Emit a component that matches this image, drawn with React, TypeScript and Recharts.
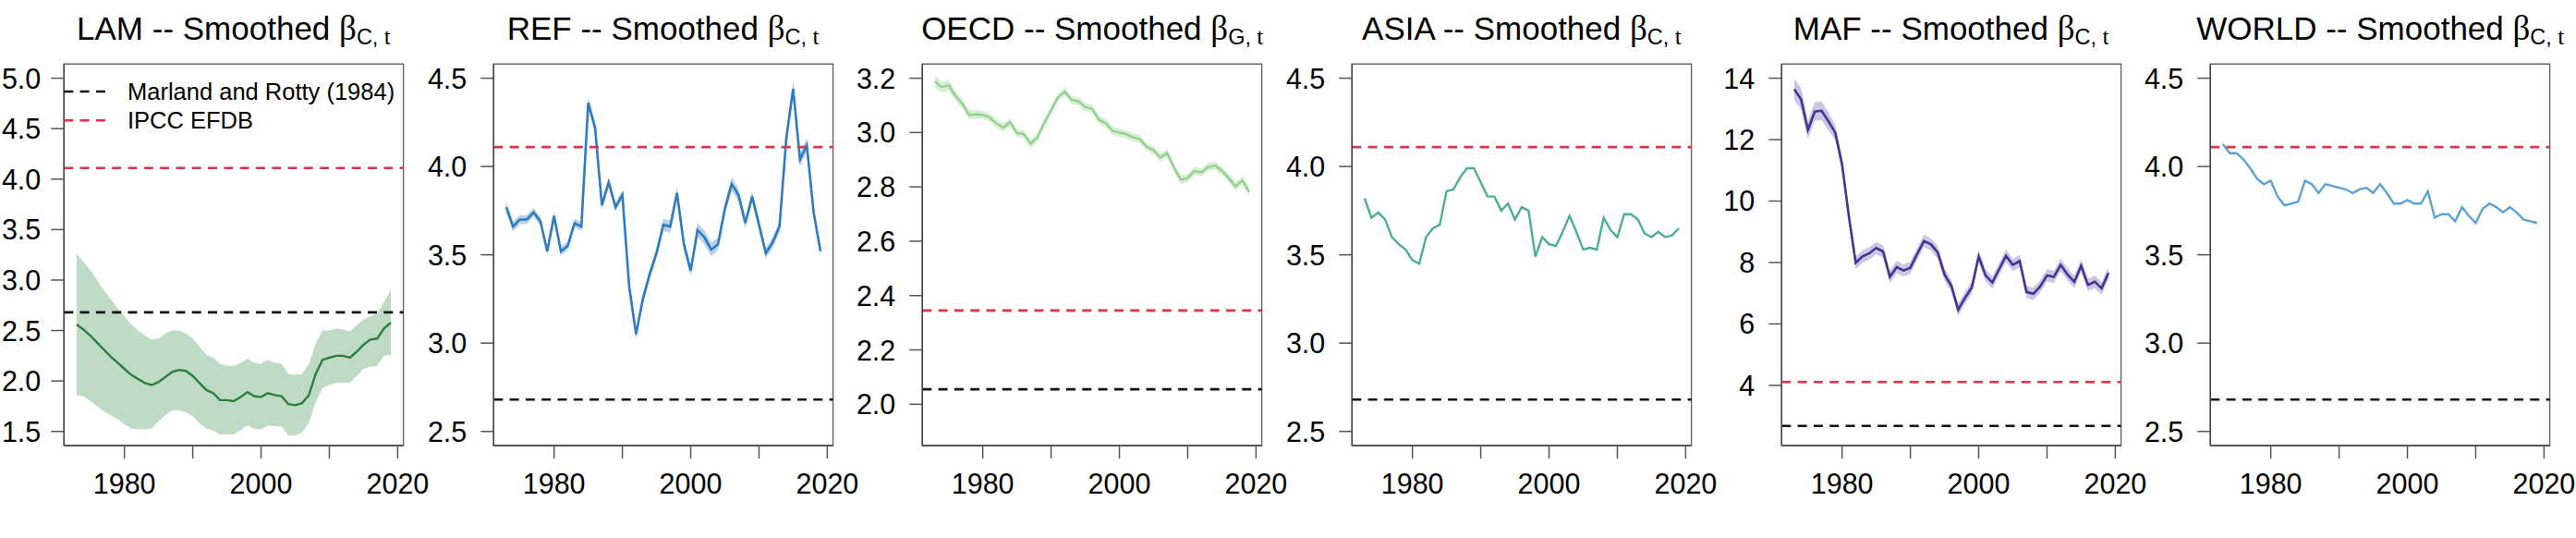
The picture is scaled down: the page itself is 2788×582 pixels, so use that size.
import React from "react";
import {
  Area,
  ComposedChart,
  Line,
  ReferenceArea,
  ReferenceLine,
  XAxis,
  YAxis,
} from "recharts";

// years 1973-2019
const years = [
  1973, 1974, 1975, 1976, 1977, 1978, 1979, 1980, 1981, 1982,
  1983, 1984, 1985, 1986, 1987, 1988, 1989, 1990, 1991, 1992,
  1993, 1994, 1995, 1996, 1997, 1998, 1999, 2000, 2001, 2002,
  2003, 2004, 2005, 2006, 2007, 2008, 2009, 2010, 2011, 2012,
  2013, 2014, 2015, 2016, 2017, 2018, 2019,
];

const lamMid = [
  2.56, 2.51, 2.45, 2.38, 2.31, 2.24, 2.18, 2.12, 2.06, 2.02,
  1.98, 1.96, 1.99, 2.04, 2.09, 2.11, 2.1, 2.05, 1.98, 1.91,
  1.88, 1.81, 1.81, 1.8, 1.84, 1.89, 1.85, 1.84, 1.88, 1.86,
  1.85, 1.77, 1.76, 1.78, 1.86, 2.07, 2.21, 2.23, 2.25, 2.25,
  2.23, 2.29, 2.36, 2.41, 2.42, 2.52, 2.58,
];
const lamLo = [
  1.86, 1.85, 1.8, 1.75, 1.7, 1.66, 1.62, 1.57, 1.53, 1.52,
  1.52, 1.53, 1.6, 1.66, 1.71, 1.71, 1.69, 1.65, 1.58, 1.53,
  1.51, 1.47, 1.47, 1.47, 1.51, 1.56, 1.53, 1.52, 1.56, 1.55,
  1.55, 1.46, 1.46, 1.49, 1.58, 1.79, 1.93, 1.96, 1.98, 1.98,
  1.98, 2.05, 2.12, 2.14, 2.15, 2.25, 2.26,
];
const lamHi = [
  3.26, 3.18, 3.1, 3.0, 2.9, 2.81, 2.72, 2.64, 2.56, 2.5,
  2.45, 2.41, 2.42, 2.47, 2.5, 2.5, 2.47, 2.42, 2.34, 2.26,
  2.23, 2.17, 2.15, 2.15, 2.18, 2.22, 2.18, 2.17, 2.21, 2.18,
  2.17, 2.07, 2.06, 2.07, 2.17, 2.37, 2.5, 2.5, 2.52, 2.51,
  2.49, 2.55, 2.61, 2.64, 2.67, 2.78, 2.9,
];

const refMid = [
  3.77, 3.66, 3.7, 3.7, 3.74, 3.69, 3.52, 3.72, 3.52, 3.55,
  3.68, 3.66, 4.36, 4.22, 3.78, 3.91, 3.77, 3.84, 3.32, 3.05,
  3.25, 3.39, 3.51, 3.67, 3.66, 3.85, 3.56, 3.41, 3.64, 3.6,
  3.53, 3.56, 3.76, 3.9, 3.84, 3.68, 3.83, 3.67, 3.51, 3.57,
  3.66, 4.16, 4.44, 4.04, 4.12, 3.74, 3.52,
];
const refSpread = [
  0.03, 0.03, 0.025, 0.025, 0.025, 0.025, 0.025, 0.025, 0.025, 0.025,
  0.025, 0.025, 0.035, 0.03, 0.025, 0.025, 0.025, 0.025, 0.025, 0.03,
  0.03, 0.03, 0.03, 0.035, 0.035, 0.035, 0.03, 0.03, 0.04, 0.04,
  0.04, 0.035, 0.03, 0.04, 0.035, 0.03, 0.03, 0.03, 0.03, 0.03,
  0.03, 0.035, 0.045, 0.04, 0.04, 0.03, 0.03,
];

const oecdMid = [
  3.188, 3.167, 3.174, 3.135, 3.106, 3.065, 3.067, 3.065, 3.056, 3.033,
  3.018, 3.038, 2.998, 2.994, 2.959, 2.982, 3.035, 3.082, 3.129, 3.151,
  3.12, 3.115, 3.094, 3.088, 3.047, 3.035, 3.006, 3.0, 2.994, 2.982,
  2.976, 2.947, 2.935, 2.908, 2.924, 2.871, 2.826, 2.832, 2.859, 2.853,
  2.873, 2.879, 2.859, 2.832, 2.802, 2.824, 2.782,
];
const oecdSpread = [
  0.022, 0.02, 0.02, 0.018, 0.018, 0.016, 0.016, 0.015, 0.015, 0.015,
  0.015, 0.015, 0.015, 0.015, 0.016, 0.016, 0.015, 0.015, 0.015, 0.016,
  0.015, 0.015, 0.015, 0.015, 0.015, 0.015, 0.015, 0.015, 0.015, 0.015,
  0.015, 0.015, 0.015, 0.015, 0.015, 0.015, 0.016, 0.015, 0.015, 0.015,
  0.015, 0.015, 0.015, 0.015, 0.015, 0.016, 0.016,
];

const asiaMid = [
  3.82, 3.71, 3.74, 3.7, 3.6, 3.56, 3.53, 3.47, 3.45, 3.6,
  3.65, 3.67, 3.86, 3.87, 3.94, 3.99, 3.99, 3.91, 3.83, 3.83,
  3.75, 3.79, 3.7, 3.77, 3.75, 3.49, 3.6, 3.56, 3.55, 3.63,
  3.72, 3.63, 3.53, 3.54, 3.53, 3.71, 3.64, 3.6, 3.73, 3.73,
  3.7, 3.62, 3.6, 3.63, 3.6, 3.61, 3.65,
];

const mafMid = [
  13.64, 13.32, 12.32, 12.91, 12.94, 12.6, 12.23, 11.2, 9.5, 7.99,
  8.2, 8.3, 8.47, 8.36, 7.53, 7.85, 7.74, 7.83, 8.28, 8.7,
  8.59, 8.33, 7.61, 7.24, 6.46, 6.85, 7.19, 8.2, 7.58, 7.35,
  7.78, 8.22, 7.92, 8.05, 7.04, 6.98, 7.22, 7.58, 7.53, 7.92,
  7.61, 7.37, 7.89, 7.27, 7.37, 7.16, 7.66,
];
const mafSpread = [
  0.35, 0.35, 0.3, 0.3, 0.3, 0.3, 0.25, 0.25, 0.22, 0.2,
  0.2, 0.2, 0.2, 0.2, 0.2, 0.2, 0.2, 0.2, 0.2, 0.2,
  0.2, 0.2, 0.2, 0.2, 0.2, 0.2, 0.2, 0.2, 0.2, 0.2,
  0.2, 0.2, 0.2, 0.2, 0.2, 0.2, 0.2, 0.2, 0.2, 0.2,
  0.2, 0.2, 0.2, 0.2, 0.2, 0.2, 0.2,
];

const worldMid = [
  4.126, 4.075, 4.075, 4.04, 3.99, 3.93, 3.9, 3.92, 3.83, 3.78,
  3.79, 3.8, 3.92, 3.9, 3.85, 3.9, 3.89, 3.88, 3.87, 3.85,
  3.87, 3.88, 3.85, 3.9, 3.85, 3.79, 3.79, 3.81, 3.79, 3.79,
  3.86, 3.71, 3.73, 3.73, 3.69, 3.77, 3.72, 3.68, 3.76, 3.79,
  3.77, 3.74, 3.77, 3.74, 3.7, 3.69, 3.68,
];

// reference factors
const coalMarland = 2.68;
const coalIpcc = 4.11;
const gasMarland = 2.055;
const gasIpcc = 2.345;

const yearTicks = [1980, 1990, 2000, 2010, 2020];
const yearLabels = [1980, 2000, 2020];
const lamTicks = [1.5, 2.0, 2.5, 3.0, 3.5, 4.0, 4.5, 5.0];
const coalTicks = [2.5, 3.0, 3.5, 4.0, 4.5];
const oecdTicks = [2.0, 2.2, 2.4, 2.6, 2.8, 3.0, 3.2];
const mafTicks = [4, 6, 8, 10, 12, 14];

const SANS = "'Liberation Sans', Arial, Helvetica, sans-serif";
const SERIF = "'Liberation Serif', 'Times New Roman', serif";
const W = 2788;
const H = 582;
const PANEL_W = W / 6;
const PAD = 24; // extra room on the left so tick labels are not clipped
const PLOT_LEFT = 69.3;
const PLOT_W = 367.3;
const PLOT_TOP = 69.3;
const PLOT_BOTTOM = 512;
const X_DOMAIN: [number, number] = [1971.16, 2020.84];
const RED = "#e3304b";

type PanelDef = {
  region: string;
  sub: string;
  mid: number[];
  lo?: number[];
  hi?: number[];
  spread?: number[];
  color: string;
  band?: string;
  width: number;
  domain: [number, number];
  ticks: number[];
  decimals: number;
  marland: number;
  ipcc: number;
};

const panels: PanelDef[] = [
  { region: "LAM", sub: "C", mid: lamMid, lo: lamLo, hi: lamHi, color: "#2a7f3e", band: "#bfdbc5", width: 2.4, domain: [1.36, 5.14], ticks: lamTicks, decimals: 1, marland: coalMarland, ipcc: coalIpcc },
  { region: "REF", sub: "C", mid: refMid, spread: refSpread, color: "#2f7bbf", band: "#b9d2ea", width: 2.6, domain: [2.42, 4.58], ticks: coalTicks, decimals: 1, marland: coalMarland, ipcc: coalIpcc },
  { region: "OECD", sub: "G", mid: oecdMid, spread: oecdSpread, color: "#93cf8c", band: "#d6eed3", width: 2.2, domain: [1.848, 3.252], ticks: oecdTicks, decimals: 1, marland: gasMarland, ipcc: gasIpcc },
  { region: "ASIA", sub: "C", mid: asiaMid, color: "#4db08a", width: 2.4, domain: [2.42, 4.58], ticks: coalTicks, decimals: 1, marland: coalMarland, ipcc: coalIpcc },
  { region: "MAF", sub: "C", mid: mafMid, spread: mafSpread, color: "#40358f", band: "#cbc6e6", width: 2.6, domain: [2.04, 14.46], ticks: mafTicks, decimals: 0, marland: coalMarland, ipcc: coalIpcc },
  { region: "WORLD", sub: "C", mid: worldMid, color: "#5ba3d6", width: 2.4, domain: [2.42, 4.58], ticks: coalTicks, decimals: 1, marland: coalMarland, ipcc: coalIpcc },
];

function YearTick(props: any) {
  const { x, y, payload } = props;
  if (!yearLabels.includes(payload.value)) return <g />;
  return (
    <text x={x} y={y + 37.7} textAnchor="middle" fontFamily={SANS} fontSize={30.5} fill="#000">
      {payload.value}
    </text>
  );
}

function Panel({ p, index }: { p: PanelDef; index: number }) {
  const rows = years.map((year, i) => {
    let band: number[] | null = null;
    if (p.lo && p.hi) band = [p.lo[i], p.hi[i]];
    else if (p.spread) band = [p.mid[i] - p.spread[i], p.mid[i] + p.spread[i]];
    return { year, mid: p.mid[i], band };
  });

  const valueTick = (props: any) => {
    const { x, y, payload } = props;
    return (
      <text x={x} y={y} dy="0.36em" textAnchor="end" fontFamily={SANS} fontSize={30.5} fill="#000">
        {Number(payload.value).toFixed(p.decimals)}
      </text>
    );
  };

  const chartW = 465 + PAD;
  // the first panel sits at the page edge: pull its labels in a little so they stay whole
  const labelGap = index === 0 ? 11 : 15;

  return (
    <div style={{ position: "absolute", left: index * PANEL_W - PAD, top: 0 }}>
      <ComposedChart
        width={chartW}
        height={H}
        data={rows}
        margin={{ top: PLOT_TOP, right: chartW - PAD - PLOT_LEFT - PLOT_W, bottom: H - PLOT_BOTTOM, left: PAD }}
      >
        <XAxis
          type="number"
          dataKey="year"
          domain={X_DOMAIN}
          ticks={yearTicks}
          interval={0}
          allowDataOverflow
          tickSize={14}
          tickMargin={0}
          axisLine={{ stroke: "#444", strokeWidth: 1.5 }}
          tickLine={{ stroke: "#555", strokeWidth: 1.5 }}
          tick={YearTick}
        />
        <YAxis
          type="number"
          domain={p.domain}
          ticks={p.ticks}
          interval={0}
          allowDataOverflow
          width={PLOT_LEFT}
          tickSize={14}
          tickMargin={labelGap}
          axisLine={{ stroke: "#444", strokeWidth: 1.5 }}
          tickLine={{ stroke: "#555", strokeWidth: 1.5 }}
          tick={valueTick}
        />
        <ReferenceArea
          x1={X_DOMAIN[0]}
          x2={X_DOMAIN[1]}
          y1={p.domain[0]}
          y2={p.domain[1]}
          fill="none"
          stroke="#666"
          strokeWidth={1.4}
          ifOverflow="visible"
        />
        {p.band && (
          <Area
            type="linear"
            dataKey="band"
            stroke="none"
            fill={p.band}
            fillOpacity={1}
            dot={false}
            activeDot={false}
            isAnimationActive={false}
          />
        )}
        <Line
          type="linear"
          dataKey="mid"
          stroke={p.color}
          strokeWidth={p.width}
          dot={false}
          activeDot={false}
          isAnimationActive={false}
        />
        <ReferenceLine y={p.ipcc} stroke={RED} strokeWidth={2.6} strokeDasharray="10 7.3" />
        <ReferenceLine y={p.marland} stroke="#111" strokeWidth={2.6} strokeDasharray="10 7.3" />
      </ComposedChart>
    </div>
  );
}

export default function App() {
  return (
    <div style={{ position: "absolute", left: 0, top: 0, width: W, height: H, background: "#fff", overflow: "hidden" }}>
      {panels.map((p, i) => (
        <Panel key={p.region} p={p} index={i} />
      ))}
      <svg width={W} height={H} style={{ position: "absolute", left: 0, top: 0, pointerEvents: "none" }}>
        {panels.map((p, i) => (
          <text
            key={p.region}
            x={i * PANEL_W + PLOT_LEFT + PLOT_W / 2}
            y={43.3}
            textAnchor="middle"
            fontFamily={SANS}
            fontSize={35}
            fill="#000"
            style={{ whiteSpace: "pre" }}
          >
            {`${p.region} -- Smoothed `}
            <tspan fontFamily={SERIF} fontSize={37}>β</tspan>
            <tspan fontSize={23.5} dy={5}>{`${p.sub},`}</tspan>
            <tspan fontFamily={SERIF} fontSize={25.5}>{" t"}</tspan>
          </text>
        ))}
        <line x1={PLOT_LEFT} x2={115} y1={99} y2={99} stroke="#111" strokeWidth={2.6} strokeDasharray="10 7.3" />
        <line x1={PLOT_LEFT} x2={115} y1={130.2} y2={130.2} stroke={RED} strokeWidth={2.6} strokeDasharray="10 7.3" />
        <text x={138} y={99} dy="0.36em" fontFamily={SANS} fontSize={25.5} fill="#000">
          Marland and Rotty (1984)
        </text>
        <text x={138} y={130.2} dy="0.36em" fontFamily={SANS} fontSize={25.5} fill="#000">
          IPCC EFDB
        </text>
      </svg>
    </div>
  );
}
